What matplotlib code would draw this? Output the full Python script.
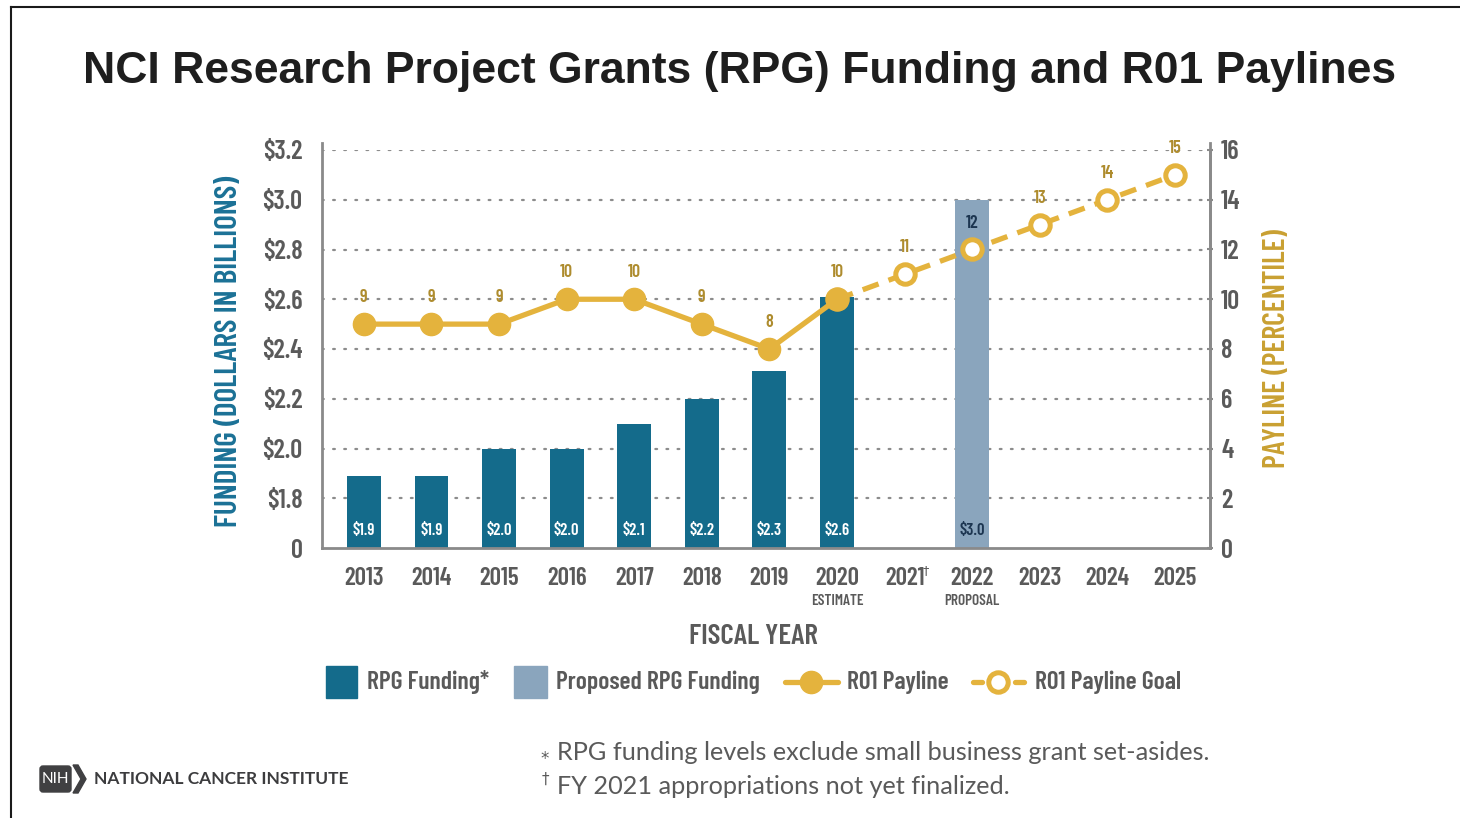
import matplotlib
matplotlib.use('Agg')
import matplotlib.pyplot as plt
from matplotlib import font_manager as fm
from matplotlib.patches import Rectangle, FancyBboxPatch, Polygon

# ---------------- data ----------------
years = ['2013', '2014', '2015', '2016', '2017', '2018', '2019',
         '2020', '2021', '2022', '2023', '2024', '2025']
funding_years = ['2013', '2014', '2015', '2016', '2017', '2018', '2019', '2020']
funding = [1.89, 1.89, 2.0, 2.0, 2.1, 2.2, 2.31, 2.61]
funding_labels = ['$1.9', '$1.9', '$2.0', '$2.0', '$2.1', '$2.2', '$2.3', '$2.6']
proposed_years = ['2022']
proposed = [3.0]
proposed_labels = ['$3.0']
payline_years = ['2013', '2014', '2015', '2016', '2017', '2018', '2019', '2020']
payline = [9, 9, 9, 10, 10, 9, 8, 10]
goal_years = ['2020', '2021', '2022', '2023', '2024', '2025']
goal = [10, 11, 12, 13, 14, 15]
left_ticks = [1.6, 1.8, 2.0, 2.2, 2.4, 2.6, 2.8, 3.0, 3.2]
left_ticklabels = ['0', '$1.8', '$2.0', '$2.2', '$2.4', '$2.6', '$2.8', '$3.0', '$3.2']
right_ticks = [0, 2, 4, 6, 8, 10, 12, 14, 16]
year_notes = {'2020': 'ESTIMATE', '2022': 'PROPOSAL'}

# ---------------- style ----------------
DARK = '#146b8b'
LIGHT = '#8aa5bd'
GOLD = '#e4b33d'
GOLD_TXT = '#ae8c2e'
GRAY = '#5a5a5a'
SPINE = '#8a8a8a'
TEAL = '#1b7196'
NAVY = '#1c3550'

names = {f.name for f in fm.fontManager.ttflist}
FAM = 'Barlow Condensed' if 'Barlow Condensed' in names else 'DejaVu Sans'
W = 'semibold'

fig = plt.figure(figsize=(14.6, 8.18), dpi=100)
fig.patch.set_facecolor('white')

ax = fig.add_axes([322 / 1460, 1 - 548 / 818, (1210 - 322) / 1460, (548 - 150) / 818])
ax2 = ax.twinx()

xi = {y: i for i, y in enumerate(years)}

# grid (dotted)
for t in left_ticks[1:]:
    ax.axhline(t, color='#8c8c8c', lw=1.6, ls=(0, (0.8, 4.2)), dash_capstyle='round', zorder=0)

# bars
fx = [xi[y] for y in funding_years]
ax.bar(fx, [v - left_ticks[0] for v in funding], bottom=left_ticks[0], width=0.5,
       color=DARK, zorder=2)
px = [xi[y] for y in proposed_years]
ax.bar(px, [v - left_ticks[0] for v in proposed], bottom=left_ticks[0], width=0.5,
       color=LIGHT, zorder=2)
for x, lab in zip(fx, funding_labels):
    ax.text(x, left_ticks[0] + 0.07, lab, ha='center', va='center', color='white',
            fontsize=12, fontweight=W, family=FAM, zorder=3)
for x, lab in zip(px, proposed_labels):
    ax.text(x, left_ticks[0] + 0.07, lab, ha='center', va='center', color=NAVY,
            fontsize=12, fontweight=W, family=FAM, zorder=3)

ax.set_ylim(left_ticks[0], left_ticks[-1])
ax.set_xlim(-0.62, len(years) - 1 + 0.52)
ax.set_yticks(left_ticks)
ax.set_yticklabels(left_ticklabels)
ax.tick_params(axis='y', length=0, pad=14, labelsize=19, labelcolor=GRAY)
for lab in ax.get_yticklabels():
    lab.set_fontfamily(FAM)
    lab.set_fontweight(W)

ax.set_xticks(range(len(years)))
ax.set_xticklabels(years)
ax.tick_params(axis='x', length=0, pad=14, labelsize=18, labelcolor=GRAY)
for lab in ax.get_xticklabels():
    lab.set_fontfamily(FAM)
    lab.set_fontweight(W)

for y, note in year_notes.items():
    ax.annotate(note, xy=(xi[y], left_ticks[0]), xytext=(0, -38), textcoords='offset points',
                ha='center', va='center', fontsize=11, fontweight=W, color=GRAY, family=FAM)
ax.annotate('†', xy=(xi['2021'], left_ticks[0]), xytext=(15, -16), textcoords='offset points',
            ha='center', va='center', fontsize=9, color=GRAY)

for s in ['top']:
    ax.spines[s].set_visible(False)
    ax2.spines[s].set_visible(False)
for s in ['left', 'bottom', 'right']:
    ax.spines[s].set_color(SPINE)
    ax.spines[s].set_linewidth(2)
    ax2.spines[s].set_color(SPINE)
    ax2.spines[s].set_linewidth(2)
ax.spines['left'].set_bounds(left_ticks[0], left_ticks[-1] + 0.03)
ax2.spines['right'].set_bounds(0, 16.3)
ax2.spines['left'].set_visible(False)
ax2.spines['bottom'].set_visible(False)

# lines
gx = [xi[y] for y in goal_years]
ax2.plot(gx, goal, color=GOLD, lw=3.8, ls=(0, (3.2, 2.0)), marker='o', markersize=14,
         markerfacecolor='white', markeredgecolor=GOLD, markeredgewidth=3.6, zorder=4,
         clip_on=False)
plx = [xi[y] for y in payline_years]
ax2.plot(plx, payline, color=GOLD, lw=3.8, marker='o', markersize=16,
         markerfacecolor=GOLD, markeredgecolor=GOLD, zorder=5, clip_on=False)

for x, v in zip(plx, payline):
    ax2.annotate(str(v), xy=(x, v), xytext=(0, 19), textcoords='offset points', ha='center',
                 va='center', fontsize=13, fontweight=W, color=GOLD_TXT, family=FAM)
for y, v in zip(goal_years[1:], goal[1:]):
    c = NAVY if y in proposed_years else GOLD_TXT
    ax2.annotate(str(v), xy=(xi[y], v), xytext=(0, 19), textcoords='offset points',
                 ha='center', va='center', fontsize=13, fontweight=W, color=c, family=FAM)

ax2.set_ylim(right_ticks[0], right_ticks[-1])
ax2.set_yticks(right_ticks)
ax2.tick_params(axis='y', length=4, width=1.5, color=SPINE, direction='inout', pad=6,
                labelsize=19, labelcolor=GRAY)
for lab in ax2.get_yticklabels():
    lab.set_fontfamily(FAM)
    lab.set_fontweight(W)

# ---------------- overlay (title, labels, legend, footnotes) ----------------
ov = fig.add_axes([0, 0, 1, 1], zorder=10)
ov.set_xlim(0, 1460)
ov.set_ylim(818, 0)
ov.axis('off')
ov.patch.set_alpha(0)

ov.plot([11, 1460], [7, 7], color='#1a1a1a', lw=1.5)
ov.plot([11, 11], [7, 818], color='#1a1a1a', lw=1.5)

ov.text(740, 72, 'NCI Research Project Grants (RPG) Funding and R01 Paylines',
        ha='center', va='center', fontsize=32, fontweight='bold', color='#1e1e1e',
        family='Liberation Sans')

ov.text(753, 637, 'FISCAL YEAR', ha='center', va='center', fontsize=21, fontweight=W,
        color=GRAY, family=FAM)
ov.text(229, 351, 'FUNDING (DOLLARS IN BILLIONS)', ha='center', va='center', rotation=90,
        fontsize=22.5, fontweight=W, color=TEAL, family=FAM)
ov.text(1277, 349, 'PAYLINE (PERCENTILE)', ha='center', va='center', rotation=90,
        fontsize=21.5, fontweight=W, color='#c9a032', family=FAM)

# legend
LEG = dict(ha='left', va='center', fontsize=18.5, fontweight=W, color=GRAY, family=FAM)
ov.add_patch(Rectangle((326, 666), 31, 32, color=DARK))
ov.text(367, 682, 'RPG Funding*', **LEG)
ov.add_patch(Rectangle((514, 666), 33, 32, color=LIGHT))
ov.text(556, 682, 'Proposed RPG Funding', **LEG)
ov.plot([785, 838], [682, 682], color=GOLD, lw=3.8, solid_capstyle='round')
ov.plot([811], [682], marker='o', markersize=16, color=GOLD)
ov.text(847, 682, 'R01 Payline', **LEG)
ov.plot([973, 982], [682, 682], color=GOLD, lw=3.8, solid_capstyle='round')
ov.plot([1015, 1024], [682, 682], color=GOLD, lw=3.8, solid_capstyle='round')
ov.plot([998], [682], marker='o', markersize=14, markerfacecolor='white',
        markeredgecolor=GOLD, markeredgewidth=3.6)
ov.text(1035, 682, 'R01 Payline Goal', **LEG)

# footnotes
ov.text(545, 759, '*', ha='center', va='center', fontsize=12, color=GRAY)
ov.text(557, 753, 'RPG funding levels exclude small business grant set-asides.',
        ha='left', va='center', fontsize=18.2, color=GRAY, family='Lato')
ov.text(545, 779, '†', ha='center', va='center', fontsize=11, color=GRAY)
ov.text(557, 787, 'FY 2021 appropriations not yet finalized.',
        ha='left', va='center', fontsize=18.2, color=GRAY, family='Lato')

# NIH logo
ov.add_patch(FancyBboxPatch((40, 766), 31, 26, boxstyle='round,pad=0,rounding_size=3',
                            color='#404042'))
ov.text(55.5, 779, 'NIH', ha='center', va='center', fontsize=11, color='white',
        family='Lato')
ov.add_patch(Polygon([(73, 765), (78, 765), (86, 779), (78, 793), (73, 793), (81, 779)],
                     closed=True, color='#404042'))
ov.text(94, 779, 'NATIONAL CANCER INSTITUTE', ha='left', va='center', fontsize=12.5,
        fontweight='bold', color='#3c3c3e', family='Lato')

fig.savefig('out.png', dpi=100, facecolor='white')
